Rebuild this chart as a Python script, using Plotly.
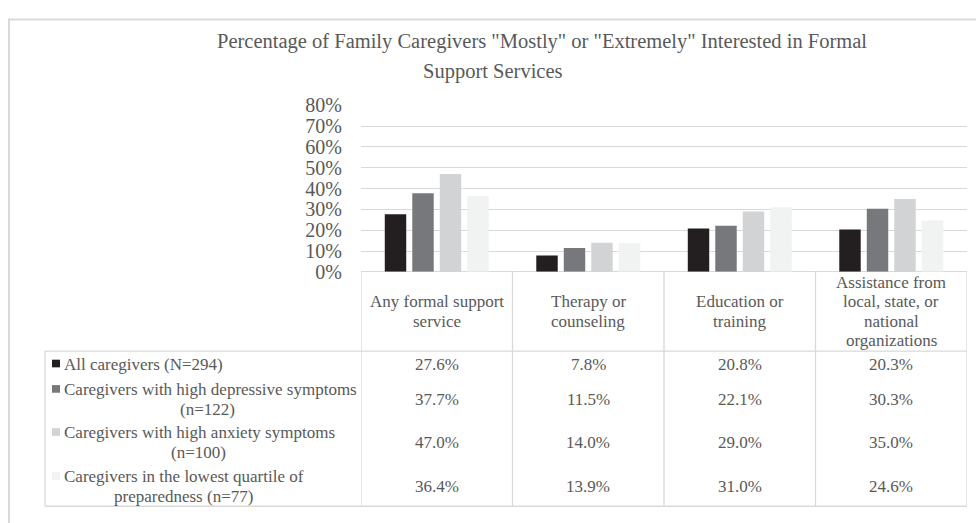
import plotly.graph_objects as go

W, H = 976, 523

title_line1 = 'Percentage of Family Caregivers "Mostly" or "Extremely" Interested in Formal'
title_line2 = "Support Services"
categories = ["Any formal support service", "Therapy or counseling",
              "Education or training",
              "Assistance from local, state, or national organizations"]
header_lines = [["Any formal support", "service"], ["Therapy or", "counseling"],
                ["Education or", "training"],
                ["Assistance from", "local, state, or", "national", "organizations"]]
series_lines = [["All caregivers (N=294)"],
                ["Caregivers with high depressive symptoms", "(n=122)"],
                ["Caregivers with high anxiety symptoms", "(n=100)"],
                ["Caregivers in the lowest quartile of", "preparedness (n=77)"]]
all_caregivers = [27.6, 7.8, 20.8, 20.3]
high_depressive = [37.7, 11.5, 22.1, 30.3]
high_anxiety = [47.0, 14.0, 29.0, 35.0]
lowest_prepared = [36.4, 13.9, 31.0, 24.6]
series_values = [all_caregivers, high_depressive, high_anxiety, lowest_prepared]
colors = ["#231F20", "#77787B", "#D1D3D4", "#F1F2F2"]
y_ticks = [0, 10, 20, 30, 40, 50, 60, 70, 80]
y_tick_labels = ["0%", "10%", "20%", "30%", "40%", "50%", "60%", "70%", "80%"]

FONT = "Liberation Serif, Times New Roman, serif"
TXT = "#595959"
LINE = "#D9D9D9"
TFS = 17
LH = 20.3


def px(x):
    return x / W


def py(y):
    return 1 - y / H


fig = go.Figure()
for lines, vals, col in zip(series_lines, series_values, colors):
    fig.add_trace(go.Bar(x=list(range(len(categories))), y=vals, name=" ".join(lines),
                         marker=dict(color=col, line=dict(width=0)),
                         showlegend=False, hoverinfo="y"))

plot_left, plot_right = 361, 967
y_top, y_zero = 98.3, 272.3
table_left, header_bottom, table_bottom = 45, 355, 517

shapes = []
shapes.append(dict(type="rect", xref="paper", yref="paper",
                   x0=px(9), x1=px(990), y0=py(540), y1=py(9),
                   line=dict(color=LINE, width=2)))
for i in range(len(categories) + 1):
    shapes.append(dict(type="line", xref="x", yref="paper",
                       x0=i - 0.5, x1=i - 0.5, y0=py(y_zero), y1=py(table_bottom),
                       line=dict(color=LINE, width=1.3)))
shapes.append(dict(type="line", xref="paper", yref="paper",
                   x0=px(table_left), x1=px(plot_right), y0=py(header_bottom), y1=py(header_bottom),
                   line=dict(color=LINE, width=1.3)))
shapes.append(dict(type="line", xref="paper", yref="paper",
                   x0=px(table_left), x1=px(table_left), y0=py(header_bottom), y1=py(table_bottom),
                   line=dict(color=LINE, width=1.3)))
shapes.append(dict(type="line", xref="paper", yref="paper",
                   x0=px(table_left), x1=px(plot_right), y0=py(table_bottom), y1=py(table_bottom),
                   line=dict(color=LINE, width=1.3)))

row_centers = [369, 405.5, 450.5, 496.5]
key_centers = [368, 394.5, 439.5, 485.5]
# centres (px) of the first legend lines; later lines are centred under them
first_line_centres = [None, 207, 198, 183]
annotations = []


def add_text(t, x, xref, y, xanchor, size=TFS):
    annotations.append(dict(text=t, xref=xref, yref="paper", x=x, y=py(y),
                            xanchor=xanchor, yanchor="middle", showarrow=False,
                            font=dict(family=FONT, size=size, color=TXT)))


for lines, col, rc, kc, fc in zip(series_lines, colors, row_centers, key_centers,
                                  first_line_centres):
    shapes.append(dict(type="rect", xref="paper", yref="paper",
                       x0=px(52), x1=px(60), y0=py(kc + 4), y1=py(kc - 4),
                       fillcolor=col, line=dict(width=0)))
    n = len(lines)
    for k, t in enumerate(lines):
        yy = rc + (k - (n - 1) / 2) * LH
        if k == 0:
            add_text(t, px(62), "paper", yy, "left")
        else:
            add_text(t, px(fc), "paper", yy, "center")

for i, lines in enumerate(header_lines):
    n = len(lines)
    for k, t in enumerate(lines):
        add_text(t, i, "x", 313.5 + (k - (n - 1) / 2) * LH, "center")

for vals, rc in zip(series_values, row_centers):
    for i, v in enumerate(vals):
        add_text(f"{v:.1f}%", i, "x", rc, "center")

# second title line
add_text(title_line2, px(493), "paper", 63.5, "center", size=20.5)

fig.update_layout(
    width=W, height=H,
    margin=dict(l=0, r=0, t=0, b=0),
    paper_bgcolor="white", plot_bgcolor="white",
    barmode="group", bargap=0.274, bargroupgap=0.22,
    title=dict(text=title_line1,
               x=px(542), xanchor="center", y=py(40.5), yanchor="middle",
               font=dict(family=FONT, size=20.5, color=TXT)),
    xaxis=dict(domain=[px(plot_left), px(plot_right)], range=[-0.5, len(categories) - 0.5],
               showticklabels=False, showgrid=False, zeroline=False,
               showline=False, fixedrange=True),
    yaxis=dict(domain=[py(y_zero), py(y_top)], range=[0, 80], tickmode="array",
               tickvals=y_ticks, ticktext=y_tick_labels,
               showgrid=True, gridcolor=LINE, gridwidth=1.3,
               zeroline=True, zerolinecolor=LINE, zerolinewidth=1.3,
               ticklabelstandoff=18,
               tickfont=dict(family=FONT, size=20, color=TXT), fixedrange=True),
    shapes=shapes, annotations=annotations,
)

fig.write_html(
    "out.html",
    config={"displayModeBar": False},
    post_script=("document.body.style.margin='0';document.body.style.overflow='hidden';"
                 "var d=document.getElementById('{plot_id}');d.style.position='fixed';"
                 "d.style.top='0px';d.style.left='0px';"),
)
